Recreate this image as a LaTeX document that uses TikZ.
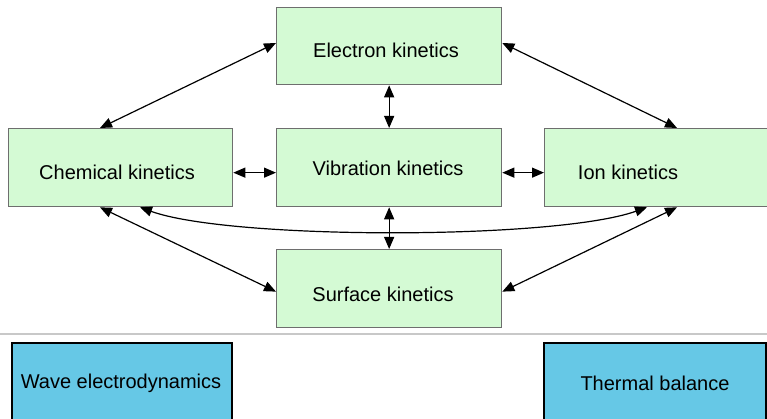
\documentclass[tikz,border=0pt]{standalone}
\usepackage{fontspec}
\setmainfont{Liberation Sans}
\usetikzlibrary{arrows.meta,calc}
\definecolor{boxgreen}{RGB}{212,250,212}
\definecolor{boxblue}{RGB}{102,200,230}
\definecolor{greyline}{RGB}{110,110,110}
\definecolor{sepgrey}{RGB}{200,200,200}
\begin{document}
\begin{tikzpicture}[x=1pt,y=-1pt,
  kin/.style={draw=greyline, line width=1.3pt, fill=boxgreen, rectangle, inner sep=0pt, anchor=north west},
  blk/.style={draw=black, line width=2pt, fill=boxblue, rectangle, inner sep=0pt, anchor=north west},
  lbl/.style={font=\fontsize{20}{24}\selectfont, inner sep=0pt, anchor=center},
  link/.style={line width=1.2pt, arrows={Triangle[length=12pt,width=10pt]-Triangle[length=12pt,width=10pt]}},
  sepline/.style={draw=sepgrey, line width=1.2pt}]
\useasboundingbox (0,0) rectangle (767,419);
\clip (0,0) rectangle (767,419);
% boxes
\node[kin, minimum width=225pt, minimum height=77pt] (elec) at (276,7) {};
\node[kin, minimum width=224pt, minimum height=78pt] (chem) at (8,128) {};
\node[kin, minimum width=225pt, minimum height=78pt] (vib) at (276,128) {};
\node[kin, minimum width=226pt, minimum height=78pt] (ion) at (544,128) {};
\node[kin, minimum width=225pt, minimum height=78pt] (surf) at (276,249) {};
\node[blk, minimum width=220pt, minimum height=95pt] (wave) at (11,342) {};
\node[blk, minimum width=222pt, minimum height=95pt] (therm) at (543,342) {};
% labels
\node[lbl] (eleclbl) at (386,50) {Electron kinetics};
\node[lbl] (chemlbl) at (117,172) {Chemical kinetics};
\node[lbl] (viblbl) at (388,168) {Vibration kinetics};
\node[lbl] (ionlbl) at (628,172) {Ion kinetics};
\node[lbl] (surflbl) at (383,294) {Surface kinetics};
\node[lbl] (wavelbl) at (121,383) {Wave electrodynamics};
\node[lbl] (thermlbl) at (655,383) {Thermal balance};
% separator
\draw[sepline] (0,334) -- (767,334);
% connectors
\draw[link] ($(elec.north west)+(0,36)$) -- ($(chem.north west)+(92,0)$);
\draw[link] ($(elec.north east)+(0,36)$) -- ($(ion.north west)+(133,0)$);
\draw[link] (elec.south) -- (vib.north);
\draw[link] ($(chem.east)+(0,5)$) -- ($(vib.west)+(0,5)$);
\draw[link] ($(vib.east)+(0,5)$) -- ($(ion.west)+(0,5)$);
\draw[link] (vib.south) -- (surf.north);
\draw[link] ($(chem.south west)+(92,0)$) -- ($(surf.west)+(0,3)$);
\draw[link] ($(ion.south west)+(133,0)$) -- ($(surf.east)+(0,3)$);
\draw[link] ($(chem.south west)+(132,0)$) .. controls (230,240) and (555,240) .. ($(ion.south west)+(103,0)$);
\end{tikzpicture}
\end{document}
